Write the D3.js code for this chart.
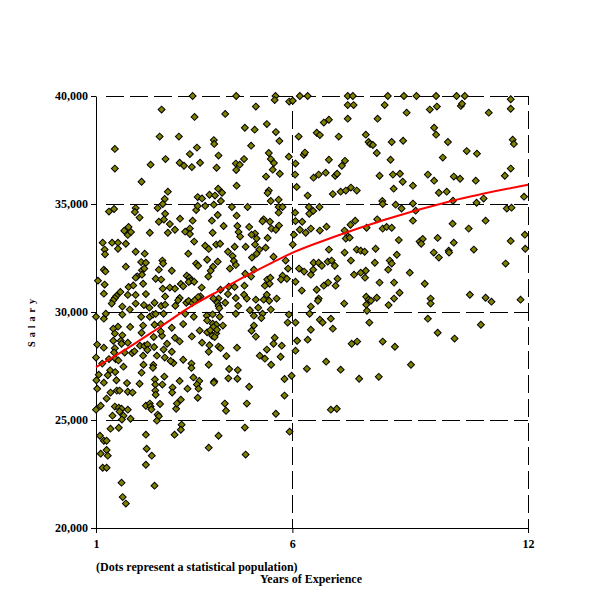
<!DOCTYPE html>
<html>
<head>
<meta charset="utf-8">
<script src="https://cdn.jsdelivr.net/npm/d3@7"></script>
<style>
  body { margin: 0; background: #fff; }
  text { font-family: "Liberation Serif", "Times New Roman", serif; font-weight: bold; }
</style>
</head>
<body>
<script>
// tick values
const xTicks = [1, 6, 12];
const yTicks = [20000, 25000, 30000, 35000, 40000];

// [years of experience, salary] for each dot
const population = [
  [3.46,40000],[4.57,40000],[2.67,39370],[3.51,39030],[4.29,39170],[1.48,37550],[2.62,38120],[3.11,38120],[4.00,37960],[4.01,37780],
  [3.57,37610],[3.39,37310],[4.12,37240],[2.77,37080],[1.48,36640],[2.39,36820],[3.13,36910],[3.24,36770],[3.44,36710],[3.65,36910],
  [4.07,36680],[4.56,36870],[4.66,36820],[4.57,36570],[2.16,36030],[4.58,35850],[2.83,35570],[2.75,35230],[2.70,35000],[3.59,35320],
  [3.70,35260],[3.89,35430],[4.03,35390],[4.11,35710],[4.21,35520],[4.18,35140],[1.33,34650],[1.46,34770],[2.01,34810],[1.99,34630],
  [2.57,34810],[2.11,34370],[2.76,34550],[2.60,34180],[2.73,34280],[2.88,34070],[3.14,34320],[3.46,34230],[3.55,34720],[3.59,34910],
  [3.78,34910],[4.00,34970],[4.10,34490],[3.95,34230],[4.25,33980],[4.46,34860],[4.58,34460],[4.60,33980],[4.63,33700],[1.72,33760],
  [1.83,33940],[1.81,33570],[1.89,33700],[2.37,33670],[2.83,33670],[3.01,33810],[3.27,33720],[3.39,33860],[3.39,33610],[3.97,33670],
  [4.67,33490],
  [5.57,40000],[5.55,39810],[6.19,40000],[6.39,40000],[5.92,39740],[6.01,39780],[5.07,39510],[7.41,40000],[7.54,40000],[7.41,39580],
  [7.56,39580],[8.35,39580],[4.79,38530],[5.04,38440],[5.35,38700],[5.58,38330],[6.80,38770],[6.93,38900],[7.41,38950],[8.17,38950],
  [6.62,38300],[6.70,38190],[6.16,38120],[7.18,38120],[7.87,38210],[5.67,37920],[4.95,37700],[7.94,37870],[7.98,37780],[8.05,37730],
  [8.15,37360],[5.40,37360],[5.45,37080],[5.53,36900],[4.77,37080],[5.91,37190],[6.29,37280],[6.32,37380],[6.93,37050],[7.34,37000],
  [7.26,36770],[6.08,36870],[5.50,36590],[5.33,36270],[5.68,36400],[6.07,36360],[6.54,36220],[6.67,36360],[6.85,36450],[7.09,36310],
  [7.14,36400],[8.22,36310],[6.11,35790],[5.40,35620],[5.37,35510],[5.45,35140],[5.65,35200],[6.39,35390],[7.03,35460],[7.23,35570],
  [7.36,35620],[7.49,35760],[7.64,35620],[8.29,35140],[8.30,35000],[4.86,34860],[5.65,34860],[5.75,34860],[6.07,34600],[6.42,34860],
  [6.69,34860],[6.53,34680],[6.43,34550],[5.65,34600],[5.27,34290],[5.24,34200],[5.43,34180],[4.90,33940],[5.47,33860],[5.58,33810],
  [5.66,34000],[5.05,33630],[4.96,33580],[6.08,34210],[6.25,34180],[6.19,33810],[6.47,33860],[6.34,33670],[6.70,33770],[6.87,33950],
  [6.04,33580],[7.33,33770],[7.48,34040],[7.60,34230],[7.89,33900],[8.16,34290],[8.30,33860],[7.41,33500],
  [8.43,40000],[8.84,40000],[9.16,40000],[9.66,40000],[10.18,40000],[10.39,40000],[11.56,39850],[11.56,39410],[9.50,39370],[9.68,39510],
  [8.91,39230],[10.29,39540],[10.32,39640],[11.00,39230],[9.61,38530],[9.66,38210],[8.53,37870],[8.82,37930],[9.96,37870],[11.61,37980],
  [11.64,37780],[10.44,37450],[10.70,37330],[9.83,37150],[8.50,37050],[8.56,36360],[8.74,36400],[9.45,36360],[8.81,36030],[9.61,36080],
  [9.07,35850],[10.11,36270],[10.27,36170],[10.67,36080],[11.41,36310],[11.56,36640],[8.58,35710],[9.73,35520],[9.93,35570],[10.09,35150],
  [10.87,35250],[11.90,35340],[10.69,35060],[8.63,34970],[9.07,35020],[8.78,34790],[9.14,34690],[11.46,34790],[11.58,34830],[9.07,34230],
  [8.40,33940],[8.53,33900],[10.08,34090],[10.49,33860],[10.92,34230],[11.92,33580],
  [1.17,33210],[1.41,33210],[1.56,33210],[1.76,33160],[3.50,33260],[4.06,33120],[4.16,33160],[3.78,33070],[1.22,32890],[1.56,32930],
  [2.01,32790],[2.24,32700],[1.23,32670],[3.87,32920],[3.35,32700],[4.36,32790],[4.53,33020],[4.48,32590],[4.51,32360],[2.15,32310],
  [2.27,32280],[2.69,32380],[2.71,32240],[3.83,32420],[3.55,32240],[4.10,32330],[3.60,32140],[1.76,32100],[3.98,32100],[4.56,32180],
  [1.20,31960],[1.24,31880],[2.17,31930],[2.23,32010],[2.60,31960],[2.93,31910],[3.92,31910],[4.41,32010],[2.05,31650],[2.01,31590],
  [2.17,31730],[2.52,31540],[2.66,31500],[3.31,31680],[3.38,31590],[3.41,31450],[3.86,31640],[1.05,31450],[1.22,31270],[2.20,31310],
  [1.83,31160],[1.95,31230],[3.16,31300],[3.22,31190],[3.36,31390],[3.50,31400],[2.70,31080],[2.88,31130],[3.01,31080],[1.62,30930],
  [3.69,31130],[4.17,31030],[4.38,31170],[4.53,31160],[1.20,30850],[1.52,30740],[1.48,30650],[1.44,30540],[1.81,30790],[2.01,30790],
  [2.27,30830],[2.76,30720],[3.13,30650],[3.09,30540],[3.66,30720],[3.60,30690],[4.12,30620],[3.99,30620],[4.36,30830],[4.56,30650],
  [1.40,30390],[1.67,30250],[1.86,30110],[2.01,30390],[2.22,30320],[2.36,30200],[2.49,30430],[2.66,30280],[2.76,30340],[3.02,30290],
  [3.30,30430],[3.36,30510],[3.45,30420],[3.51,30540],[4.09,30430],[4.12,30280],[4.29,30430],[4.14,30170],[4.62,30280],[1.00,29780],
  [1.20,29690],[1.25,29920],[1.67,29880],[2.15,29780],[2.37,29780],[2.45,29880],[2.52,29910],[2.72,29920],[3.27,29920],[3.49,29780],
  [3.82,29830],[3.97,29890],[4.15,29780],[4.56,29920],[1.56,29320],[1.44,29230],[1.87,29310],[2.20,29370],[2.49,29410],[2.65,29440],
  [2.93,29270],[3.22,29440],[3.83,29610],[3.97,29460],[4.06,29410],[4.23,29370],[3.99,29310],[1.48,29000],[1.67,28920],[2.16,29040],
  [2.47,28840],[2.68,28900],[2.65,29100],[3.01,28810],[3.13,28640],[3.44,28870],[3.64,29140],[3.83,29060],[3.96,28900],[4.06,29000],
  [4.02,28840],[3.91,29150],[4.08,29180],[1.03,28490],[1.44,28670],[1.63,28670],[1.65,28530],[1.81,28580],[2.12,28440],[2.23,28430],
  [2.31,28490],[2.48,28380],[2.81,28530],[3.70,28580],[3.89,28460],[4.12,28400],[4.17,28330],[4.59,28350],[1.20,28350],[1.48,28320],
  [1.46,28130],[1.73,28120],[1.92,28100],[1.98,28180],[2.20,27980],[2.31,28240],[2.72,28260],[2.55,27980],[2.93,28160],[3.87,28160],
  [4.32,27960],[3.22,27790],[1.00,27890],[1.16,27610],[1.33,27820],[1.50,27820],[1.57,27760],[1.70,27470],[2.21,27560],[2.46,27550],
  [2.45,27420],[2.75,27890],[2.97,27640],[2.90,27730],[3.43,27610],[3.43,27410],[3.87,27560],[4.39,27360],[4.61,27310],[1.36,27300],
  [1.01,26840],[1.07,27100],[1.30,27070],[1.52,26840],[1.49,27220],[2.16,27190],[2.50,26880],[2.74,27010],[3.13,26810],[3.48,26970],
  [3.63,26810],[4.01,26790],[4.37,26930],[4.60,26910],
  [4.81,33020],[5.05,33120],[5.09,33400],[5.37,33430],[6.01,33120],[7.36,33400],[7.46,33440],[5.16,32890],[5.32,32980],[5.09,32700],
  [4.97,32520],[5.52,32560],[6.93,32890],[7.33,32750],[7.64,32890],[7.74,32840],[7.84,32790],[8.12,32930],[5.83,32380],[6.54,32280],
  [6.67,32280],[6.75,32140],[6.90,32330],[7.00,32380],[7.08,32140],[7.49,32380],[8.10,32280],[4.80,31770],[4.95,31640],[5.02,31960],
  [5.36,31500],[5.44,31590],[5.42,31310],[5.30,31220],[5.75,31680],[5.71,31500],[5.86,31540],[5.89,32010],[6.17,32010],[6.30,31870],
  [6.47,31730],[6.53,31960],[6.08,31400],[6.91,31360],[6.80,31220],[7.15,31540],[7.10,31220],[7.57,31730],[7.74,31820],[7.87,31910],
  [7.85,31590],[8.22,31360],[4.78,31220],[6.24,30990],[6.62,31030],[4.77,30800],[4.84,30620],[5.07,30570],[5.27,30570],[5.35,30800],
  [5.41,30520],[5.60,30620],[6.67,30620],[6.65,30520],[7.88,30710],[7.94,30570],[8.00,30520],[8.15,30660],[7.88,30340],[7.32,30390],
  [6.47,30250],[4.92,30080],[5.02,29830],[5.13,30200],[5.24,29920],[5.21,29720],[5.45,30110],[5.91,29880],[6.08,29510],[5.88,29510],
  [6.44,29920],[6.70,29640],[6.77,29510],[6.98,29690],[7.03,29230],[6.47,29180],[7.90,30060],[7.96,29510],[5.02,29370],[4.96,29130],
  [5.07,28860],[5.55,28810],[5.52,28530],[5.73,28440],[6.12,28670],[6.39,28720],[5.35,28260],[5.17,27980],[5.30,27840],[5.46,27560],
  [5.70,27930],[6.08,28210],[7.51,28530],[7.65,28630],[8.30,28630],[6.86,27700],[6.37,27370],[7.23,27330],[5.98,27050],[5.80,26900],
  [7.70,26910],[8.20,27000],
  [8.71,33330],[9.24,33260],[9.32,33380],[9.28,33160],[9.70,33430],[10.11,33210],[11.56,33290],[11.93,32930],[10.62,32890],[9.60,32750],
  [9.73,32520],[9.98,32840],[9.99,32750],[8.66,32650],[8.48,32380],[8.53,32240],[8.44,31960],[8.99,31820],[11.43,32240],[8.59,31360],
  [9.37,31310],[8.73,30890],[8.59,30620],[9.52,30620],[9.52,30390],[8.45,30320],[10.52,30800],[10.92,30660],[11.07,30480],[11.81,30570],
  [9.45,29690],[10.80,29410],[9.70,29040],[10.13,28770],[8.61,28390],[9.02,27560],
  [1.20,26730],[1.79,26710],[2.11,26680],[2.51,26640],[2.69,26640],[2.95,26500],[3.33,26450],[3.57,26640],[3.61,26450],[4.00,26730],
  [1.03,26450],[1.27,25990],[1.37,26270],[1.53,26360],[1.60,26360],[1.81,26310],[1.93,26270],[2.51,26360],[2.52,26170],[2.94,26270],
  [3.16,25940],[3.59,26030],[1.00,25480],[1.12,25660],[1.48,25620],[1.58,25570],[1.65,25520],[1.81,25480],[1.60,25390],[1.70,25200],
  [1.42,25200],[1.66,25020],[1.88,25060],[2.27,25660],[2.37,25760],[2.39,25620],[2.41,25490],[2.63,25740],[3.04,25520],[3.06,25760],
  [2.57,25250],[2.60,25170],[2.55,24970],[4.28,25760],[4.31,25430],[3.18,24780],[3.16,24550],[3.00,24320],[1.10,24270],[1.20,24040],
  [1.27,24040],[1.37,24600],[1.58,24640],[2.27,24320],[4.12,24270],[3.87,23720],[1.12,23440],[1.27,23610],[1.30,23350],[2.29,23670],
  [2.42,23350],[2.27,22930],[1.17,22790],[1.27,22790],[1.65,22100],[2.49,21960],[1.68,21430],[1.76,21130],
  [4.90,26540],[5.80,26130],[4.84,25760],[5.58,25290],[6.98,25480],[7.13,25520],[4.79,24650],[5.93,24460],[4.81,23400]
];

// red trend curve
const trendYears = [1, 1.8, 2.65, 3.5, 4.2, 4.8, 5.5, 6.05, 7.05, 8.35, 10.05, 12];
const trendSalary = [27450, 28320, 29330, 30350, 31050, 31650, 32300, 32780, 33470, 34270, 35140, 35890];

const svg = d3.select("body")
  .append("svg")
  .attr("width", 600)
  .attr("height", 600);

const x = d3.scaleLinear().domain([1, 12]).range([96, 528]);
const y = d3.scaleLinear().domain([20000, 40000]).range([528, 96]);

// dashed grid
const grid = svg.append("g")
  .attr("stroke", "#000")
  .attr("stroke-width", 1)
  .attr("stroke-dasharray", "18,6")
  .attr("shape-rendering", "crispEdges");

grid.selectAll(".hgrid")
  .data(yTicks.slice(1))
  .join("line")
  .attr("x1", x(1) + 10)
  .attr("x2", x(12))
  .attr("y1", d => Math.round(y(d)) + 0.5)
  .attr("y2", d => Math.round(y(d)) + 0.5);

grid.selectAll(".vgrid")
  .data(xTicks.slice(1))
  .join("line")
  .attr("stroke-dashoffset", 9)
  .attr("x1", d => Math.round(x(d)) + 0.5)
  .attr("x2", d => Math.round(x(d)) + 0.5)
  .attr("y1", y(20000))
  .attr("y2", y(40000));

// axes
const yAxis = svg.append("g")
  .attr("transform", `translate(${x(1)},0)`)
  .call(d3.axisLeft(y).tickValues(yTicks).tickSize(5).tickSizeOuter(0).tickPadding(3).tickFormat(d3.format(",")));

const xAxis = svg.append("g")
  .attr("transform", `translate(0,${y(20000)})`)
  .call(d3.axisBottom(x).tickValues(xTicks).tickSize(5).tickSizeOuter(0).tickPadding(6));

svg.selectAll(".tick text")
  .attr("font-family", "Liberation Serif, Times New Roman, serif")
  .attr("font-weight", "bold")
  .attr("font-size", 12)
  .attr("fill", "#000");
svg.selectAll(".domain, .tick line").attr("stroke", "#000");

// dots
const diamond = d3.symbol().type(d3.symbolSquare).size(24);
svg.append("g")
  .selectAll("path")
  .data(population)
  .join("path")
  .attr("d", diamond)
  .attr("transform", d => `translate(${x(d[0])},${y(d[1])}) rotate(45)`)
  .attr("fill", "#808000")
  .attr("stroke", "#000")
  .attr("stroke-width", 1);

// trend curve
const line = d3.line()
  .x((d, i) => x(trendYears[i]))
  .y(d => y(d))
  .curve(d3.curveMonotoneX);

svg.append("path")
  .datum(trendSalary)
  .attr("d", line)
  .attr("fill", "none")
  .attr("stroke", "#ff0000")
  .attr("stroke-width", 2);

// labels
svg.append("text")
  .attr("transform", "translate(35,321) rotate(-90)")
  .attr("text-anchor", "middle")
  .attr("font-size", 10)
  .attr("letter-spacing", 4)
  .text("Salary");

svg.append("text")
  .attr("x", 96)
  .attr("y", 571)
  .attr("font-size", 12)
  .text("(Dots represent a statistical population)");

svg.append("text")
  .attr("x", 311)
  .attr("y", 583)
  .attr("text-anchor", "middle")
  .attr("font-size", 12)
  .text("Years of Experience");
</script>
</body>
</html>
